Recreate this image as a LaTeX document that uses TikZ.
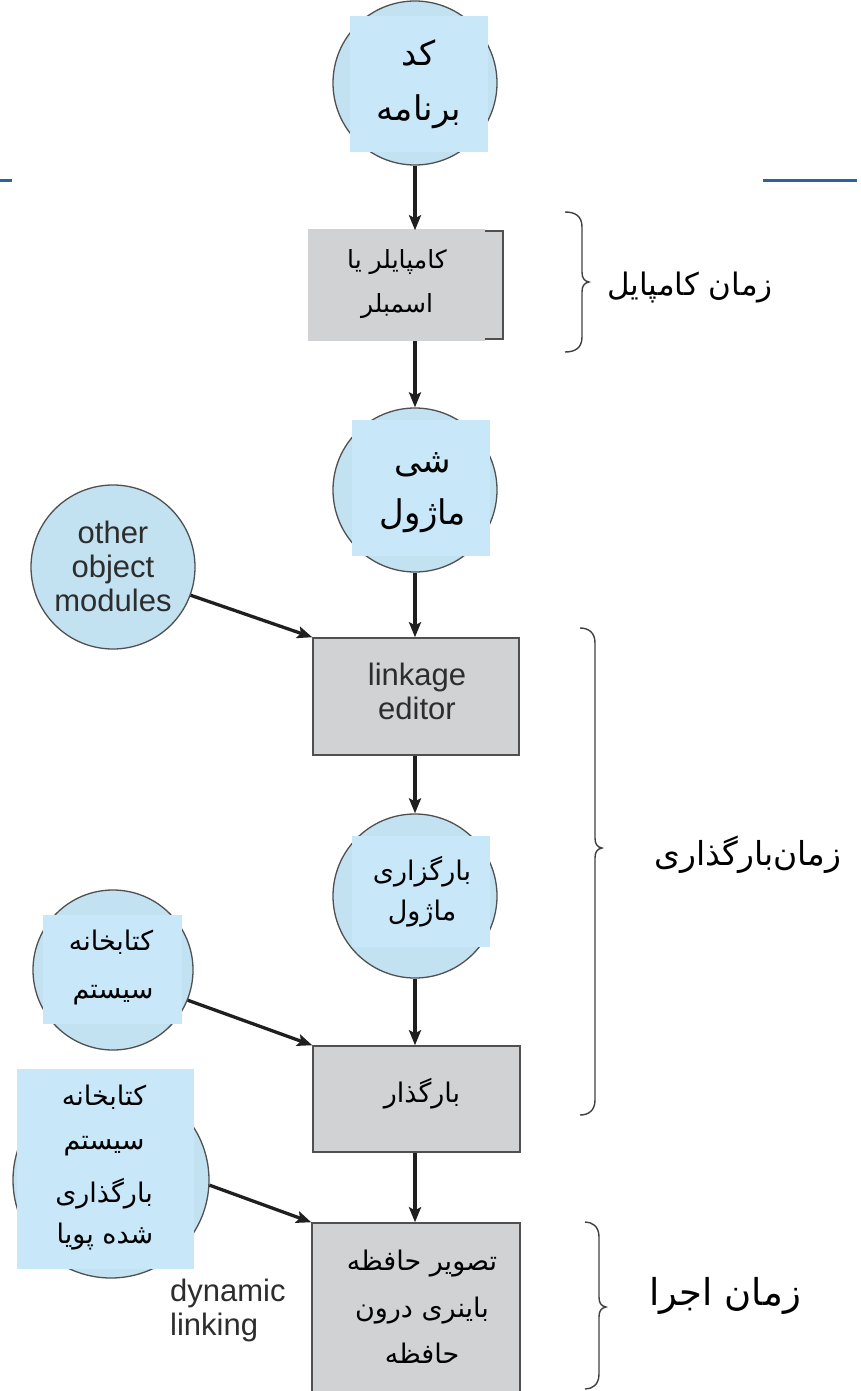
\documentclass[tikz,border=0pt]{standalone}
\usepackage{fontspec}
\setmainfont{Liberation Sans}
\newfontfamily\fafont[Script=Arabic]{DejaVu Sans}
\TeXXeTstate=1
\usetikzlibrary{arrows.meta}

% one right-to-left line of Persian text
\newcommand\fa[1]{{\fafont\beginR #1\endR}}

\definecolor{circfill}{RGB}{194,226,241}
\definecolor{patchfill}{RGB}{200,231,249}
\definecolor{boxfill}{RGB}{208,210,212}
\definecolor{edgegray}{RGB}{80,80,80}
\definecolor{inkgray}{RGB}{45,45,45}
\definecolor{rulecol}{RGB}{47,98,155}

% a curly brace opening to the left: hook x, spine x, top y, tip y, bottom y
\newcommand\timebrace[5]{%
  \draw[bracepen] (#1,#3) .. controls (#2-7,#3) and (#2,#3+4) .. (#2,#3+15)
    -- (#2,#4-10) .. controls (#2,#4-4) and (#2+2,#4-1) .. (#2+7,#4)
    .. controls (#2+2,#4+1) and (#2,#4+4) .. (#2,#4+10)
    -- (#2,#5-15) .. controls (#2,#5-4) and (#2-7,#5) .. (#1,#5);}

\tikzset{
  blob/.style={circle, draw=edgegray, fill=circfill, line width=1.3pt, inner sep=0pt},
  patch/.style={rectangle, fill=patchfill, inner sep=0pt},
  stage/.style={rectangle, draw=edgegray, fill=boxfill, line width=1.5pt, inner sep=0pt},
  cover/.style={rectangle, fill=boxfill, inner sep=0pt},
  flow/.style={line width=3.3pt, draw=black!88, -{Stealth[length=15pt,width=12pt,inset=3pt]}},
  bracepen/.style={line width=1.4pt, draw=black!75},
  entext/.style={text=inkgray, align=center, inner sep=0pt, font=\fontsize{31}{34}\selectfont},
  fatext/.style={text=black, inner sep=0pt},
}

\begin{document}
\begin{tikzpicture}[x=1pt,y=-1pt]
\useasboundingbox (0,0) rectangle (861,1391);
\clip (0,0) rectangle (861,1391);

% title rules
\draw[rulecol, line width=3pt] (0,181) -- (12,181);
\draw[rulecol, line width=3pt] (763,181) -- (857,181);

% source program
\node[blob, minimum size=164pt] (src) at (415,83) {};
\node[patch, minimum width=138pt, minimum height=136pt] (srcp) at (419,84) {};
\node[fatext, font=\fontsize{34}{40}\selectfont] (srca) at (419,53) {\fa{کد}};
\node[fatext, font=\fontsize{34}{40}\selectfont] (srcb) at (419,112) {\fa{برنامه}};

% compiler or assembler
\node[stage, minimum width=194pt, minimum height=108pt] (comp) at (406,285) {};
\node[cover, minimum width=177pt, minimum height=112pt] (compc) at (396.5,285) {};
\node[fatext, font=\fontsize{25}{30}\selectfont] (compa) at (397,262) {\fa{کامپایلر یا}};
\node[fatext, font=\fontsize{25}{30}\selectfont] (compb) at (397,306) {\fa{اسمبلر}};

% object module
\node[blob, minimum size=164pt] (obj) at (415,490) {};
\node[patch, minimum width=138pt, minimum height=136pt] (objp) at (421,488) {};
\node[fatext, font=\fontsize{34}{40}\selectfont] (obja) at (423,465) {\fa{شی}};
\node[fatext, font=\fontsize{34}{40}\selectfont] (objb) at (423,516) {\fa{ماژول}};

% other object modules
\node[blob, minimum size=164pt] (other) at (113,567) {};
\node[entext] (othert) at (113,566) {other\\object\\modules};

% linkage editor
\node[stage, minimum width=206pt, minimum height=117pt] (link) at (416,696.5) {};
\node[entext] (linkt) at (417,691) {linkage\\editor};

% load module
\node[blob, minimum size=164pt] (load) at (415,896) {};
\node[patch, minimum width=138pt, minimum height=111pt] (loadp) at (421,891.5) {};
\node[fatext, font=\fontsize{27}{30}\selectfont] (loada) at (422,872) {\fa{بارگزاری}};
\node[fatext, font=\fontsize{27}{30}\selectfont] (loadb) at (422,914) {\fa{ماژول}};

% system library
\node[blob, minimum size=160pt] (syslib) at (113,970) {};
\node[patch, minimum width=139pt, minimum height=109pt] (syslibp) at (112.5,969.5) {};
\node[fatext, font=\fontsize{27}{30}\selectfont] (sysliba) at (111,942) {\fa{کتابخانه}};
\node[fatext, font=\fontsize{27}{30}\selectfont] (syslibb) at (113,995) {\fa{سیستم}};

% loader
\node[stage, minimum width=207pt, minimum height=106pt] (loader) at (416.5,1099) {};
\node[fatext, font=\fontsize{27}{30}\selectfont] (loadert) at (422,1094) {\fa{بارگذار}};

% dynamically loaded system library
\node[blob, minimum size=196pt] (dyn) at (111,1180) {};
\node[patch, minimum width=177pt, minimum height=200pt] (dynp) at (105.5,1169) {};
\node[fatext, font=\fontsize{27}{30}\selectfont] (dyna) at (104,1097) {\fa{کتابخانه}};
\node[fatext, font=\fontsize{27}{30}\selectfont] (dynb) at (104,1146) {\fa{سیستم}};
\node[fatext, font=\fontsize{27}{30}\selectfont] (dync) at (104,1194) {\fa{بارگذاری}};
\node[fatext, font=\fontsize{27}{30}\selectfont] (dynd) at (105,1237) {\fa{شده پویا}};

% in-memory binary image
\node[stage, minimum width=208pt, minimum height=190pt] (mem) at (416,1318) {};
\node[fatext, font=\fontsize{27}{30}\selectfont] (mema) at (422,1264) {\fa{تصویر حافظه}};
\node[fatext, font=\fontsize{27}{30}\selectfont] (memb) at (422,1311) {\fa{باینری درون}};
\node[fatext, font=\fontsize{27}{30}\selectfont] (memc) at (422,1353) {\fa{حافظه}};

\node[entext, align=left, anchor=west] (dynlink) at (170,1310) {dynamic\\linking};

% flow
\draw[flow] (src.south) -- (src.south |- comp.north);
\draw[flow] (src.south |- compc.south) -- (obj.north);
\draw[flow] (obj.south) -- (obj.south |- link.north);
\draw[flow] (other.-20) -- (link.north west);
\draw[flow] (load.north |- link.south) -- (load.north);
\draw[flow] (load.south) -- (load.south |- loader.north);
\draw[flow] (syslib.-22) -- (loader.north west);
\draw[flow] (load.south |- loader.south) -- (load.south |- mem.north);
\draw[flow] (dyn.-3) -- (mem.north west);

% time spans
\timebrace{565}{582}{212}{282}{352}
\node[fatext, font=\fontsize{31}{36}\selectfont] (tcomp) at (690,288) {\fa{زمان کامپایل}};
\timebrace{580}{595}{628}{848}{1115}
\node[fatext, font=\fontsize{33}{36}\selectfont] (tload) at (748,855) {\fa{زمان‌بارگذاری}};
\timebrace{585}{599}{1222}{1307}{1389}
\node[fatext, font=\fontsize{37}{40}\selectfont] (trun) at (725,1296) {\fa{زمان اجرا}};
\end{tikzpicture}
\end{document}
